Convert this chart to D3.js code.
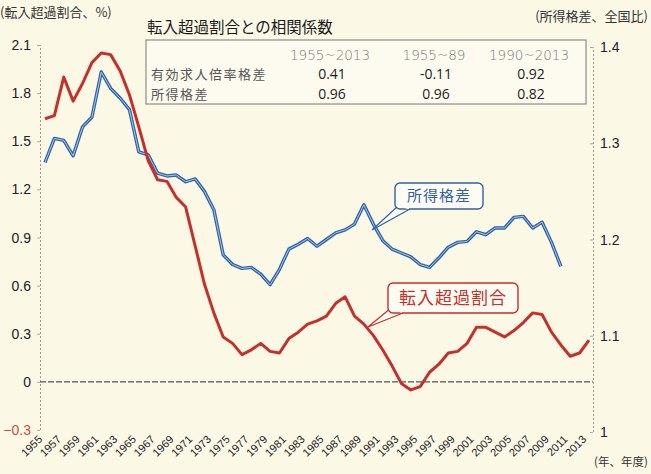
<!DOCTYPE html>
<html><head><meta charset="utf-8">
<script src="https://cdn.jsdelivr.net/npm/d3@7"></script>
<style>
html,body{margin:0;padding:0;background:#fbf8e6;}
svg{display:block;}
</style></head>
<body>
<svg id="chart" width="651" height="474"></svg>
<script>
const years = d3.range(1955, 2014);
const migrationRate = [1.64,1.66,1.90,1.75,1.86,1.99,2.05,2.04,1.94,1.79,
  1.59,1.38,1.26,1.25,1.15,1.09,0.85,0.61,0.43,0.28,
  0.24,0.17,0.20,0.24,0.19,0.18,0.27,0.31,0.36,0.38,
  0.41,0.49,0.53,0.41,0.36,0.29,0.20,0.10,-0.01,-0.05,
  -0.03,0.06,0.11,0.18,0.19,0.24,0.34,0.34,0.31,0.28,
  0.32,0.37,0.43,0.42,0.31,0.23,0.16,0.18,0.26];
const incomeYears = d3.range(1955, 2011);
const incomeGap = [1.280,1.305,1.303,1.287,1.317,1.327,1.374,1.357,1.347,1.335,
  1.291,1.288,1.269,1.266,1.267,1.260,1.263,1.250,1.231,1.184,
  1.174,1.170,1.171,1.164,1.153,1.169,1.190,1.195,1.201,1.193,
  1.200,1.207,1.210,1.216,1.236,1.216,1.199,1.190,1.186,1.182,
  1.174,1.171,1.181,1.192,1.197,1.198,1.208,1.205,1.212,1.212,
  1.223,1.224,1.212,1.218,1.197,1.172];
const leftTicks = [-0.3,0,0.3,0.6,0.9,1.2,1.5,1.8,2.1];
const rightTicks = [1,1.1,1.2,1.3,1.4];
const xTickYears = d3.range(1955, 2014, 2);
const tableTitle = "転入超過割合との相関係数";
const tableHeaders = ["1955~2013","1955~89","1990~2013"];
const tableRows = ["有効求人倍率格差","所得格差"];
const tableValues = [["0.41","-0.11","0.92"],["0.96","0.96","0.82"]];

const RED = "#c5302a", BLUE = "#2f62a6", BLUE_IN = "#a8c6ea";
const JP = "'Noto Sans CJK JP','Noto Sans',sans-serif";
const NUM = "'Liberation Sans',Arial,sans-serif";

const svg = d3.select("#chart");
svg.append("rect").attr("width",651).attr("height",474).attr("fill","#fbf8e6");

const x = d3.scaleLinear().domain([1955,2013]).range([45,589]);
const yL = d3.scaleLinear().domain([-0.3,2.1]).range([430,45]);
const yR = d3.scaleLinear().domain([1.0,1.4]).range([432,47]);

// axes lines (dotted)
const axL = svg.append("g").attr("transform","translate(40,0)")
  .call(d3.axisLeft(yL).tickValues(leftTicks).tickSize(3).tickFormat(""));
axL.select(".domain").attr("stroke","#9a9a90").attr("stroke-dasharray","2,2");
axL.selectAll(".tick line").attr("stroke","#aaa");
const axR = svg.append("g").attr("transform","translate(593,0)")
  .call(d3.axisLeft(yR).tickValues(rightTicks).tickSize(3).tickFormat(""));
axR.select(".domain").attr("stroke","#9a9a90").attr("stroke-dasharray","2,2");
axR.selectAll(".tick line").attr("stroke","#aaa");

// tick labels
svg.append("g").selectAll("text").data(leftTicks).join("text")
  .attr("x",31).attr("y",d=>yL(d)+5).attr("text-anchor","end")
  .attr("font-family",NUM).attr("font-size",14)
  .attr("fill",d=>d<0?"#d05040":"#222").text(d=>d===0?"0":d3.format(".1f")(d));
svg.append("g").selectAll("text").data(rightTicks).join("text")
  .attr("x",600).attr("y",d=>yR(d)+5).attr("text-anchor","start")
  .attr("font-family",NUM).attr("font-size",14).attr("fill","#222")
  .text(d=>d===1?"1":d3.format(".1f")(d));

// zero line
svg.append("line").attr("x1",40).attr("x2",593).attr("y1",yL(0)).attr("y2",yL(0))
  .attr("stroke","#555").attr("stroke-width",1.2).attr("stroke-dasharray","6,2");

// x labels
svg.append("g").selectAll("text").data(xTickYears).join("text")
  .attr("transform",d=>`translate(${x(d)-2},440) rotate(-45)`)
  .attr("text-anchor","end").attr("font-family",NUM).attr("font-size",11)
  .attr("fill","#222").text(d=>d);
svg.append("text").attr("x",594).attr("y",466).attr("font-family",JP)
  .attr("font-size",11.5).attr("fill","#333").text("(年、年度)");

// axis titles
svg.append("text").attr("x",0).attr("y",17).attr("font-family",JP)
  .attr("font-size",13).attr("fill","#333").text("(転入超過割合、%)");
svg.append("text").attr("x",648).attr("y",21).attr("text-anchor","end").attr("font-family",JP)
  .attr("font-size",13).attr("fill","#333").text("(所得格差、全国比)");

// table
svg.append("text").attr("x",147).attr("y",33).attr("font-family",JP)
  .attr("font-size",15.5).attr("font-weight",400).attr("fill","#1a1a1a").text(tableTitle);
svg.append("rect").attr("x",146).attr("y",40).attr("width",440).attr("height",64)
  .attr("fill","#fdfbf0").attr("stroke","#777").attr("stroke-width",1);
const colX = [330,434,529];
tableHeaders.forEach((h,i)=>{
  svg.append("text").attr("x",colX[i]).attr("y",60).attr("text-anchor","middle")
    .attr("font-family","'DejaVu Sans',sans-serif").attr("font-weight",200).attr("font-size",13.5)
    .attr("fill","#7a7a7a").text(h);
});
tableRows.forEach((r,j)=>{
  const yy = 79 + j*20;
  svg.append("text").attr("x",151).attr("y",yy).attr("font-family",JP)
    .attr("font-size",13).attr("fill","#555").attr("letter-spacing",1.5).text(r);
  tableValues[j].forEach((v,i)=>{
    svg.append("text").attr("x",colX[i]+2).attr("y",yy).attr("text-anchor","middle")
      .attr("font-family","'Open Sans',sans-serif").attr("font-size",14)
      .attr("fill","#222").text(v);
  });
});

// lines
const lineR = d3.line().x((d,i)=>x(years[i])).y(d=>yL(d));
const lineB = d3.line().x((d,i)=>x(incomeYears[i])).y(d=>yR(d));
svg.append("path").datum(incomeGap).attr("d",lineB).attr("fill","none")
  .attr("stroke",BLUE).attr("stroke-width",3.4).attr("stroke-linejoin","round");
svg.append("path").datum(incomeGap).attr("d",lineB).attr("fill","none")
  .attr("stroke",BLUE_IN).attr("stroke-width",1).attr("stroke-linejoin","round");
svg.append("path").datum(migrationRate).attr("d",lineR).attr("fill","none")
  .attr("stroke",RED).attr("stroke-width",3).attr("stroke-linejoin","round");

// callouts
function callout(bx,by,bw,bh,tail,color,label,fs){
  const g = svg.append("g");
  g.append("path").attr("d",`M${tail[0][0]},${tail[0][1]} L${tail[2][0]},${tail[2][1]} L${tail[1][0]},${tail[1][1]}`)
    .attr("fill","#fdfbf2").attr("stroke",color).attr("stroke-width",1.2);
  g.append("rect").attr("x",bx).attr("y",by).attr("width",bw).attr("height",bh).attr("rx",5)
    .attr("fill","#fdfbf2").attr("stroke",color).attr("stroke-width",1.4);
  g.append("path").attr("d",`M${tail[0][0]+1},${tail[0][1]-1} L${tail[1][0]-1},${tail[1][1]-1}`)
    .attr("stroke","#fdfbf2").attr("stroke-width",2.5);
  g.append("text").attr("x",bx+bw/2).attr("y",by+bh/2+fs*0.36).attr("text-anchor","middle")
    .attr("font-family",JP).attr("font-size",fs).attr("fill",color).attr("letter-spacing",1).text(label);
}
callout(395,183,88,26,[[398,206],[410,209],[372,230]],BLUE,"所得格差",15);
callout(388,283,130,30,[[391,308],[403,313],[368,327]],RED,"転入超過割合",17);
</script>
</body></html>
